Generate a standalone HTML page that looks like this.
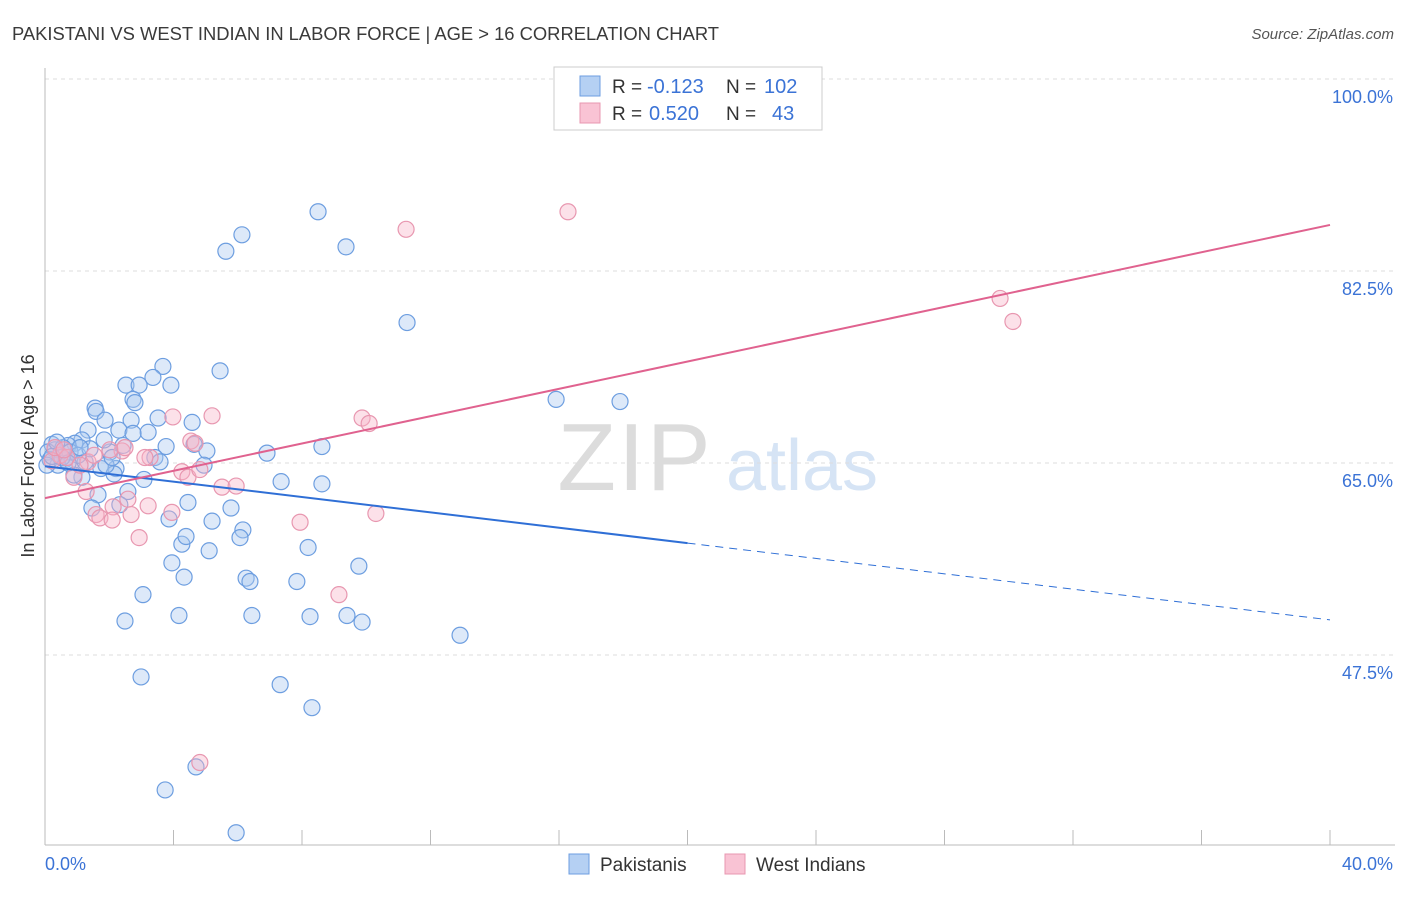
<!DOCTYPE html>
<html><head><meta charset="utf-8"><style>
body{margin:0;background:#fff;font-family:"Liberation Sans",sans-serif;}
svg text{font-family:"Liberation Sans",sans-serif;}
</style></head><body>
<svg id="chart" width="1406" height="892" viewBox="0 0 1406 892" xmlns="http://www.w3.org/2000/svg">
<text x="12" y="40" font-size="18.4" fill="#3a3a3a" textLength="707">PAKISTANI VS WEST INDIAN IN LABOR FORCE | AGE &gt; 16 CORRELATION CHART</text>
<text x="1394" y="39" font-size="15" fill="#555" font-style="italic" text-anchor="end">Source: ZipAtlas.com</text>
<g>
<text x="635" y="490" font-size="96" fill="#dcdcdc" text-anchor="middle" font-family="Liberation Serif" letter-spacing="2">ZIP</text>
<text x="802" y="490" font-size="72" fill="#d6e4f5" text-anchor="middle">atlas</text>
</g>
<g id="grid"></g>
<g id="axes"></g>
<g id="marks"></g>
<text transform="translate(34,456) rotate(-90)" font-size="18" fill="#333" text-anchor="middle">In Labor Force | Age &gt; 16</text>
<g>
<rect x="554" y="67" width="268" height="63" fill="#fff" stroke="#ccc"/>
<rect x="580" y="76" width="20" height="20" fill="#b5d0f3" stroke="#6d9ee0"/>
<rect x="580" y="103" width="20" height="20" fill="#f9c3d4" stroke="#e897b0"/>
<text x="612" y="93" font-size="19" fill="#333">R =</text>
<text x="647" y="93" font-size="20" fill="#3b73d6">-0.123</text>
<text x="726" y="93" font-size="19" fill="#333">N =</text>
<text x="764" y="93" font-size="20" fill="#3b73d6">102</text>
<text x="612" y="120" font-size="19" fill="#333">R =</text>
<text x="649" y="120" font-size="20" fill="#3b73d6">0.520</text>
<text x="726" y="120" font-size="19" fill="#333">N =</text>
<text x="772" y="120" font-size="20" fill="#3b73d6">43</text>
</g>
<g>
<rect x="569" y="854" width="20" height="20" fill="#b5d0f3" stroke="#6d9ee0"/>
<text x="600" y="871" font-size="19" fill="#333">Pakistanis</text>
<rect x="725" y="854" width="20" height="20" fill="#f9c3d4" stroke="#e897b0"/>
<text x="756" y="871" font-size="19" fill="#333">West Indians</text>
</g>
</svg>
<script>
const blueX=[8.50,6.13,5.63,9.37,11.27,3.67,5.45,3.36,2.52,2.93,3.92,2.74,2.80,1.56,1.59,3.52,2.68,4.58,1.87,15.91,17.90,1.34,2.30,3.21,2.74,3.77,4.64,5.04,8.62,6.91,2.02,1.84,1.15,0.93,0.72,0.22,0.31,0.47,0.62,0.84,1.25,1.74,2.21,2.15,3.42,3.58,4.95,3.08,2.58,1.15,1.65,1.46,2.33,4.45,7.35,8.62,3.86,5.20,5.79,6.16,6.07,4.26,4.39,5.11,8.19,3.95,4.33,9.77,6.26,6.38,7.84,3.05,2.49,4.17,6.44,8.25,9.40,9.87,12.92,2.99,7.32,8.31,4.70,3.74,5.95,0.09,0.16,0.40,0.56,0.78,1.03,1.40,0.90,1.90,2.09,2.43,0.37,0.53,0.72,0.06,0.22,1.09];
const blueY=[87.9,85.8,84.3,84.7,77.8,73.8,73.4,72.8,72.1,72.1,72.1,70.8,70.5,70.0,69.7,69.1,68.9,68.7,68.9,70.8,70.6,68.0,68.0,67.8,67.7,66.5,66.7,66.1,66.5,65.9,66.0,67.1,67.1,66.8,66.6,66.7,66.2,65.7,65.3,65.1,65.1,64.5,64.5,64.0,65.5,65.1,64.8,63.5,62.4,63.7,62.1,60.9,61.2,61.4,63.3,63.1,59.9,59.7,60.9,58.9,58.2,57.6,58.3,57.0,57.3,55.9,54.6,55.6,54.5,54.2,54.2,53.0,50.6,51.1,51.1,51.0,51.1,50.5,49.3,45.5,44.8,42.7,37.3,35.2,31.3,66.0,65.3,64.8,66.4,66.0,65.7,66.3,63.9,64.8,65.5,66.6,66.9,65.5,65.0,64.8,65.6,66.4];
const pinkX=[16.28,11.24,29.73,30.13,3.98,5.20,9.87,10.09,4.54,4.67,2.40,3.27,3.11,4.26,4.45,4.82,5.51,5.95,0.90,1.28,2.58,2.12,1.59,1.71,2.09,2.68,3.21,3.95,7.94,10.30,2.93,9.15,4.82,0.47,0.22,0.68,1.34,2.02,2.49,1.09,0.31,0.59,1.53];
const pinkY=[87.9,86.3,80.0,77.9,69.2,69.3,69.1,68.6,67.0,66.8,66.1,65.5,65.5,64.2,63.7,64.4,62.8,62.9,63.7,62.4,61.7,61.0,60.3,60.0,59.8,60.3,61.1,60.5,59.6,60.4,58.2,53.0,37.7,65.7,65.2,65.5,65.1,66.2,66.4,64.8,66.4,66.2,65.7];
const blueTrend=[64.7,50.7];
const blueSolidEnd=20;
const pinkTrend=[61.8,86.7];
const yTicks=[100,82.5,65,47.5];
const yTickLabels=["100.0%","82.5%","65.0%","47.5%"];
const xTicks=[0,4,8,12,16,20,24,28,32,36,40];

const NS="http://www.w3.org/2000/svg";
const sx=v=>45+v*1285/40;
const sy=v=>79+(100-v)*192/17.5;
function mk(tag,attrs,parent){const e=document.createElementNS(NS,tag);for(const k in attrs)e.setAttribute(k,attrs[k]);parent.appendChild(e);return e;}
const grid=document.getElementById('grid'),axes=document.getElementById('axes'),marks=document.getElementById('marks');
yTicks.forEach((t,i)=>{
 const l=mk('line',{x1:45,x2:1395,y1:sy(t),y2:sy(t),stroke:'#ddd','stroke-dasharray':'4,4'},grid);
 
 
 const tx=mk('text',{x:1393,y:sy(t)+24,'font-size':18,fill:'#3b73d6','text-anchor':'end'},axes);
 tx.textContent=yTickLabels[i];
 
 
});
const la=mk('line',{x1:45,x2:45,y1:68,y2:845,stroke:'#bbb'},axes);


const ba=mk('line',{x1:45,x2:1395,y1:845,y2:845,stroke:'#bbb'},axes);


xTicks.forEach(t=>{
 const l=mk('line',{x1:sx(t),x2:sx(t),y1:830,y2:845,stroke:'#bbb'},axes);
 
 
});
const x0=mk('text',{x:45,y:870,'font-size':18,fill:'#3b73d6'},axes);x0.textContent="0.0%";


const x1=mk('text',{x:1393,y:870,'font-size':18,fill:'#3b73d6','text-anchor':'end'},axes);x1.textContent="40.0%";


function dots(X,Y,fill,stroke,name){
 X.forEach((x,i)=>{
  const c=mk('circle',{cx:sx(x),cy:sy(Y[i]),r:8,fill:fill,'fill-opacity':0.4,stroke:stroke,'stroke-width':1.2},marks);
  
  
 });
}
dots(blueX,blueY,'#a9c8f0','#6d9ee0','pakistani-point');
dots(pinkX,pinkY,'#f7b3c8','#e897b0','west-indian-point');
const by=x=>blueTrend[0]+(blueTrend[1]-blueTrend[0])*x/40;
const bl=mk('line',{x1:sx(0),y1:sy(by(0)),x2:sx(blueSolidEnd),y2:sy(by(blueSolidEnd)),stroke:'#2f6fd6','stroke-width':2},marks);


const bd=mk('line',{x1:sx(blueSolidEnd),y1:sy(by(blueSolidEnd)),x2:sx(40),y2:sy(by(40)),stroke:'#2f6fd6','stroke-width':1,'stroke-dasharray':'8,6'},marks);


const pl=mk('line',{x1:sx(0),y1:sy(pinkTrend[0]),x2:sx(40),y2:sy(pinkTrend[1]),stroke:'#e0628f','stroke-width':2},marks);


</script>
</body></html>
